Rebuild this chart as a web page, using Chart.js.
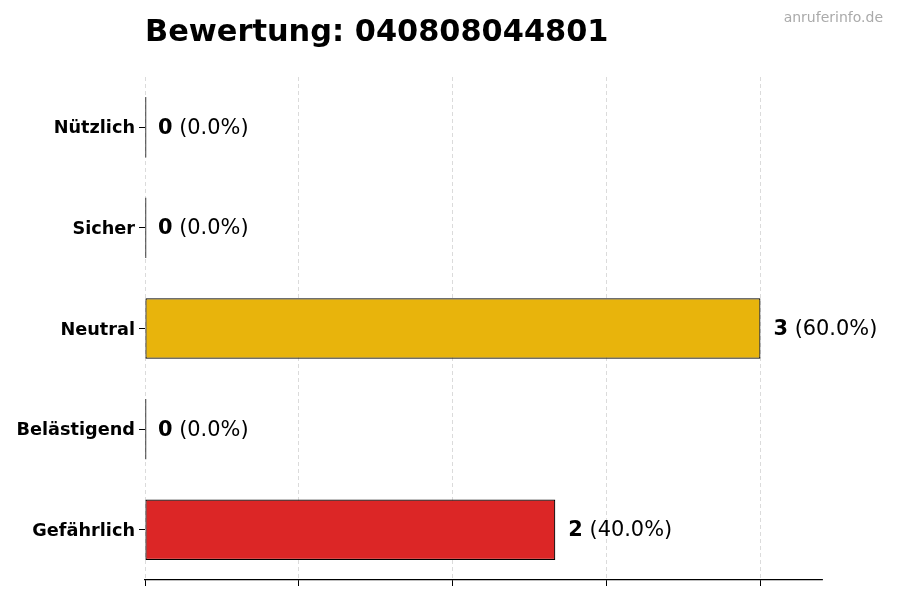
<!DOCTYPE html>
<html>
<head>
<meta charset="utf-8">
<script src="https://cdn.jsdelivr.net/npm/chart.js@4"></script>
<style>
  body { margin: 0; background: #fff; }
  #wrap { width: 900px; height: 600px; }
</style>
</head>
<body>
<div id="wrap"><canvas id="ratingChart"></canvas></div>
<script>
const titleText = "Bewertung: 040808044801";
const watermark = "anruferinfo.de";
const categories = ["Nützlich", "Sicher", "Neutral", "Belästigend", "Gefährlich"];
const counts = [0, 0, 3, 0, 2];
const barColors = ["#22c55e", "#3b82f6", "#E8B40C", "#f97316", "#DC2626"];
const xTicks = [0, 0.75, 1.5, 2.25, 3];
const xMax = 3.3;

const total = counts.reduce((a, b) => a + b, 0);
const FONT = "'DejaVu Sans', sans-serif";

// bold count + normal percentage right of each bar
const valueLabels = {
    id: 'valueLabels',
    afterDatasetsDraw(chart) {
        const ctx = chart.ctx;
        const meta = chart.getDatasetMeta(0);
        meta.data.forEach(function(bar, i) {
            const v = counts[i];
            const pct = " (" + (total ? v / total * 100 : 0).toFixed(1) + "%)";
            const x0 = chart.scales.x.getPixelForValue(v) + 13;
            ctx.save();
            ctx.textBaseline = 'middle';
            ctx.fillStyle = '#000';
            ctx.font = "bold 20.9px " + FONT;
            ctx.fillText(String(v), x0, bar.y + 1);
            const w = ctx.measureText(String(v)).width;
            ctx.font = "20.9px " + FONT;
            ctx.fillText(pct, x0 + w, bar.y + 1);
            ctx.restore();
        });
    }
};

const headerText = {
    id: 'headerText',
    afterDraw(chart) {
        const ctx = chart.ctx;
        ctx.save();
        ctx.fillStyle = '#000';
        ctx.font = "bold 30.4px " + FONT;
        ctx.textBaseline = 'alphabetic';
        ctx.fillText(titleText, chart.chartArea.left, 41);
        ctx.fillStyle = '#aaa';
        ctx.font = "14px " + FONT;
        ctx.textAlign = 'right';
        ctx.fillText(watermark, 883, 22);
        ctx.restore();
    }
};

document.addEventListener("DOMContentLoaded", function() {
    let ctx = document.getElementById('ratingChart').getContext('2d');
    new Chart(ctx, {
        type: 'bar',
        data: {
            labels: categories,
            datasets: [{
                data: counts,
                backgroundColor: counts.map((v, i) => v === 0 ? '#111' : barColors[i]),
                borderColor: '#000',
                borderWidth: counts.map(v => v === 0 ? 0 : 1.2),
                borderSkipped: false,
                minBarLength: 1.2,
                barPercentage: 0.6,
                categoryPercentage: 1
            }]
        },
        options: {
            indexAxis: 'y',
            responsive: true,
            maintainAspectRatio: false,
            animation: false,
            layout: { padding: { top: 77, right: 78, left: 0, bottom: 0 } },
            plugins: {
                legend: { display: false },
                tooltip: { enabled: false }
            },
            scales: {
                x: {
                    min: 0,
                    max: xMax,
                    afterBuildTicks: function(scale) {
                        scale.ticks = xTicks.map(v => ({ value: v }));
                    },
                    afterFit: function(scale) { scale.height = 20; },
                    ticks: { display: false },
                    grid: {
                        color: 'rgba(0,0,0,0.18)',
                        lineWidth: 0.8,
                        drawTicks: true,
                        tickLength: 6,
                        tickColor: '#000',
                        tickWidth: 1,
                        tickBorderDash: []
                    },
                    border: { display: true, color: '#000', width: 1.2, dash: [4, 3] }
                },
                y: {
                    afterFit: function(scale) { scale.width = 145; },
                    ticks: {
                        color: '#000',
                        padding: 4,
                        labelOffset: 1.5,
                        font: { family: FONT, size: 17.7, weight: 'bold' }
                    },
                    grid: {
                        offset: false,
                        drawOnChartArea: false,
                        drawTicks: true,
                        tickLength: 6,
                        tickColor: '#000'
                    },
                    border: { display: false }
                }
            }
        },
        plugins: [valueLabels, headerText]
    });
});
</script>
</body>
</html>
